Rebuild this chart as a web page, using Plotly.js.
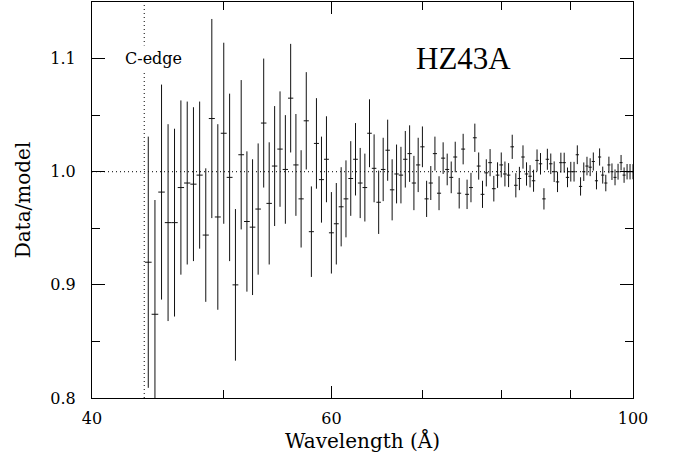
<!DOCTYPE html>
<html>
<head>
<meta charset="utf-8">
<script src="https://cdn.plot.ly/plotly-3.0.1.min.js"></script>
<style>html,body{margin:0;padding:0;background:#fff;}#chart{width:678px;height:462px;}</style>
</head>
<body>
<div id="chart"></div>
<script>
// Wavelength bins (Angstrom)
const wavelength = [
  44.0, 44.5, 45.0, 45.5, 46.0, 46.5, 47.0, 47.5, 48.0, 48.5,
  49.0, 49.5, 50.0, 50.5, 51.0, 51.5, 52.0, 52.5, 53.0, 53.5,
  54.0, 54.5, 55.0, 55.5, 56.0, 56.5, 57.0, 57.5, 58.0, 58.5,
  59.0, 59.5, 60.0, 60.5, 61.0, 61.5, 62.0, 62.5, 63.0, 63.5,
  64.0, 64.5, 65.0, 65.5, 66.0, 66.5, 67.0, 67.5, 68.0, 68.5,
  69.0, 69.5, 70.0, 70.5, 71.0, 71.5, 72.0, 72.5, 73.0, 73.5,
  74.0, 74.5, 75.0, 75.5, 76.0, 76.5, 77.0, 77.5, 78.0, 78.5,
  79.0, 79.5, 80.0, 80.5, 81.0, 81.5, 82.0, 82.5, 83.0, 83.5,
  84.0, 84.5, 85.0, 85.5, 86.0, 86.5, 87.0, 87.5, 88.0, 88.5,
  89.0, 89.5, 90.0, 90.5, 91.0, 91.5, 92.0, 92.5, 93.0, 93.5,
  94.0, 94.5, 95.0, 95.5, 96.0, 96.5, 97.0, 97.5, 98.0, 98.5,
  99.0, 99.5, 100.0
];
// Data/model ratio
const ratio = [
  0.920, 0.874, 0.982, 0.955, 0.955, 0.986, 0.990, 0.989, 0.997, 0.944,
  1.047, 0.960, 1.034, 0.995, 0.900, 1.015, 0.956, 0.951, 0.967, 1.043,
  0.972, 1.005, 1.020, 1.002, 1.065, 1.006, 0.976, 1.045, 0.947, 1.025,
  0.993, 1.011, 0.946, 0.954, 0.969, 0.976, 0.994, 1.011, 0.990, 0.986,
  1.034, 1.003, 0.973, 1.002, 1.019, 0.984, 0.998, 0.997, 1.011, 1.016,
  0.990, 1.006, 1.022, 0.976, 0.990, 1.016, 0.981, 1.012, 1.002, 0.995,
  1.013, 0.981, 1.020, 0.980, 0.986, 1.030, 1.005, 0.980, 0.999, 1.008,
  0.985, 0.997, 1.006, 0.998, 0.997, 1.022, 0.988, 0.994, 1.013, 0.998,
  0.996, 0.992, 1.010, 1.007, 0.976, 1.011, 1.007, 1.000, 0.991, 1.008,
  1.008, 0.995, 1.000, 1.000, 1.015, 0.987, 1.000, 1.005, 1.004, 1.009,
  0.992, 1.013, 0.997, 0.990, 1.006, 1.000, 0.995, 1.000, 1.008, 0.997,
  1.000, 1.000, 1.000
];
// 1-sigma uncertainty on the ratio
const ratioErr = [
  0.111, 0.101, 0.095, 0.087, 0.083, 0.077, 0.072, 0.068, 0.065, 0.059,
  0.088, 0.082, 0.080, 0.074, 0.067, 0.066, 0.062, 0.060, 0.058, 0.057,
  0.054, 0.053, 0.051, 0.048, 0.048, 0.045, 0.043, 0.043, 0.040, 0.040,
  0.038, 0.038, 0.036, 0.036, 0.035, 0.034, 0.033, 0.032, 0.031, 0.030,
  0.030, 0.030, 0.028, 0.028, 0.027, 0.027, 0.026, 0.025, 0.025, 0.025,
  0.024, 0.024, 0.018, 0.016, 0.015, 0.015, 0.015, 0.014, 0.014, 0.014,
  0.0135, 0.0135, 0.0135, 0.013, 0.013, 0.0125, 0.012, 0.012, 0.012, 0.012,
  0.0113, 0.0113, 0.011, 0.011, 0.0106, 0.0107, 0.0107, 0.0103, 0.0103, 0.0103,
  0.0098, 0.0097, 0.0097, 0.0095, 0.0094, 0.0093, 0.0091, 0.0091, 0.009, 0.0088,
  0.0088, 0.0087, 0.0087, 0.0087, 0.0083, 0.0081, 0.0082, 0.0082, 0.0079, 0.008,
  0.0076, 0.0076, 0.0075, 0.0073, 0.0073, 0.0073, 0.007, 0.007, 0.0068, 0.0068,
  0.0068, 0.0068, 0.0067
];
const binHalfWidth = 0.25;
const cEdge = 43.7;
const xTickVals = [40, 60, 100];
const xTickText = ['40', '60', '100'];
const xMinorVals = [50, 70, 80, 90];
const yTickVals = [0.8, 0.9, 1.0, 1.1];
const yTickText = ['0.8', '0.9', '1.0', '1.1'];
const yMinorVals = [0.85, 0.95, 1.05];

const serif = "'DejaVu Serif', serif";

const trace = {
  x: wavelength,
  y: ratio,
  type: 'scatter',
  mode: 'markers',
  marker: {size: 1, color: 'rgba(0,0,0,0)'},
  error_y: {type: 'data', array: ratioErr, visible: true, thickness: 1, width: 0, color: '#111'},
  error_x: {type: 'constant', value: binHalfWidth, visible: true, thickness: 1, width: 0, color: '#111'},
  hoverinfo: 'x+y',
  showlegend: false
};

const layout = {
  width: 678, height: 462,
  margin: {l: 92, r: 45, t: 2, b: 64, pad: 0},
  paper_bgcolor: '#fff', plot_bgcolor: '#fff',
  showlegend: false,
  font: {family: serif, size: 16, color: '#000'},
  xaxis: {
    type: 'log',
    range: [Math.log10(40), 2],
    tickmode: 'array', tickvals: xTickVals, ticktext: xTickText,
    ticks: 'inside', ticklen: 12, tickwidth: 1, tickcolor: '#000',
    minor: {tickmode: 'array', tickvals: xMinorVals, ticks: 'inside', ticklen: 8, tickwidth: 1, tickcolor: '#000', showgrid: false},
    showline: true, linecolor: '#000', linewidth: 1, mirror: 'allticks',
    showgrid: false, zeroline: false,
    tickfont: {family: serif, size: 16, color: '#000'},
    ticklabelstandoff: 6,
    title: {text: 'Wavelength (Å)', font: {family: serif, size: 20, color: '#000'}, standoff: 6},
    automargin: false
  },
  yaxis: {
    range: [0.8, 1.15],
    tickmode: 'array', tickvals: yTickVals, ticktext: yTickText,
    ticks: 'inside', ticklen: 13, tickwidth: 1, tickcolor: '#000',
    minor: {tickmode: 'array', tickvals: yMinorVals, ticks: 'inside', ticklen: 8, tickwidth: 1, tickcolor: '#000', showgrid: false},
    showline: true, linecolor: '#000', linewidth: 1, mirror: 'allticks',
    showgrid: false, zeroline: false,
    tickfont: {family: serif, size: 16, color: '#000'},
    ticklabelstandoff: 12,
    title: {text: 'Data/model', font: {family: serif, size: 20, color: '#000'}, standoff: 14},
    automargin: false
  },
  shapes: [
    {type: 'line', xref: 'paper', x0: 0, x1: 1, yref: 'y', y0: 1.0, y1: 1.0,
     line: {color: '#000', width: 1, dash: '1px,3px'}, layer: 'below'},
    {type: 'line', xref: 'x', x0: cEdge, x1: cEdge, yref: 'paper', y0: 0, y1: 1,
     line: {color: '#000', width: 1, dash: '1px,3px'}, layer: 'below'}
  ],
  annotations: [
    {text: 'C-edge', xref: 'paper', yref: 'y', x: 0.1146, y: 1.1, showarrow: false,
     font: {family: serif, size: 16, color: '#000'}, bgcolor: '#fff', borderpad: 3,
     xanchor: 'center', yanchor: 'middle'},
    {text: 'HZ43A', xref: 'paper', yref: 'y', x: 0.6858, y: 1.1, showarrow: false,
     font: {family: 'Liberation Serif, serif', size: 31, color: '#000'},
     xanchor: 'center', yanchor: 'middle'}
  ]
};

Plotly.newPlot('chart', [trace], layout, {staticPlot: true, displayModeBar: false});
</script>
</body>
</html>
